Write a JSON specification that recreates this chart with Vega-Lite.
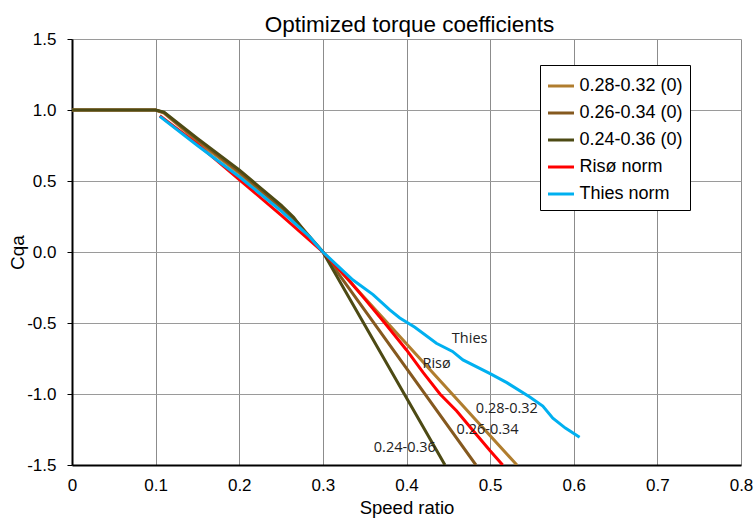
{
  "$schema": "https://vega.github.io/schema/vega-lite/v6.json",
  "width": 669,
  "height": 426,
  "autosize": "none",
  "padding": {"left": 72, "top": 39, "right": 14, "bottom": 53},
  "background": "white",
  "config": {
    "font": "Liberation Sans",
    "view": {"stroke": null}
  },
  "title": {
    "text": "Optimized torque coefficients",
    "fontSize": 22.5,
    "fontWeight": "normal",
    "color": "black",
    "anchor": "middle",
    "dx": 3,
    "offset": -6
  },
  "datasets": {
    "curves": [
      {"series": "0.28-0.32 (0)", "x": 0, "y": 1},
      {"series": "0.28-0.32 (0)", "x": 0.1, "y": 1},
      {"series": "0.28-0.32 (0)", "x": 0.11, "y": 0.978},
      {"series": "0.28-0.32 (0)", "x": 0.15, "y": 0.78},
      {"series": "0.28-0.32 (0)", "x": 0.2, "y": 0.555},
      {"series": "0.28-0.32 (0)", "x": 0.25, "y": 0.3},
      {"series": "0.28-0.32 (0)", "x": 0.27, "y": 0.19},
      {"series": "0.28-0.32 (0)", "x": 0.29, "y": 0.065},
      {"series": "0.28-0.32 (0)", "x": 0.3, "y": 0},
      {"series": "0.28-0.32 (0)", "x": 0.532, "y": -1.5},
      {"series": "0.26-0.34 (0)", "x": 0, "y": 1},
      {"series": "0.26-0.34 (0)", "x": 0.1, "y": 1},
      {"series": "0.26-0.34 (0)", "x": 0.11, "y": 0.982},
      {"series": "0.26-0.34 (0)", "x": 0.15, "y": 0.79},
      {"series": "0.26-0.34 (0)", "x": 0.2, "y": 0.565},
      {"series": "0.26-0.34 (0)", "x": 0.25, "y": 0.315},
      {"series": "0.26-0.34 (0)", "x": 0.27, "y": 0.205},
      {"series": "0.26-0.34 (0)", "x": 0.29, "y": 0.068},
      {"series": "0.26-0.34 (0)", "x": 0.3, "y": 0},
      {"series": "0.26-0.34 (0)", "x": 0.483, "y": -1.5},
      {"series": "0.24-0.36 (0)", "x": 0, "y": 1},
      {"series": "0.24-0.36 (0)", "x": 0.1, "y": 1},
      {"series": "0.24-0.36 (0)", "x": 0.11, "y": 0.985},
      {"series": "0.24-0.36 (0)", "x": 0.15, "y": 0.8},
      {"series": "0.24-0.36 (0)", "x": 0.2, "y": 0.578},
      {"series": "0.24-0.36 (0)", "x": 0.25, "y": 0.33},
      {"series": "0.24-0.36 (0)", "x": 0.265, "y": 0.245},
      {"series": "0.24-0.36 (0)", "x": 0.28, "y": 0.13},
      {"series": "0.24-0.36 (0)", "x": 0.29, "y": 0.065},
      {"series": "0.24-0.36 (0)", "x": 0.3, "y": 0},
      {"series": "0.24-0.36 (0)", "x": 0.446, "y": -1.5},
      {"series": "Risø norm", "x": 0.105, "y": 0.96},
      {"series": "Risø norm", "x": 0.15, "y": 0.76},
      {"series": "Risø norm", "x": 0.2, "y": 0.51},
      {"series": "Risø norm", "x": 0.25, "y": 0.26},
      {"series": "Risø norm", "x": 0.3, "y": 0},
      {"series": "Risø norm", "x": 0.33, "y": -0.19},
      {"series": "Risø norm", "x": 0.35, "y": -0.33},
      {"series": "Risø norm", "x": 0.374, "y": -0.5},
      {"series": "Risø norm", "x": 0.4, "y": -0.69},
      {"series": "Risø norm", "x": 0.42, "y": -0.85},
      {"series": "Risø norm", "x": 0.44, "y": -1.0},
      {"series": "Risø norm", "x": 0.46, "y": -1.12},
      {"series": "Risø norm", "x": 0.48, "y": -1.26},
      {"series": "Risø norm", "x": 0.5, "y": -1.4},
      {"series": "Risø norm", "x": 0.515, "y": -1.5},
      {"series": "Thies norm", "x": 0.105, "y": 0.955},
      {"series": "Thies norm", "x": 0.15, "y": 0.75},
      {"series": "Thies norm", "x": 0.2, "y": 0.53},
      {"series": "Thies norm", "x": 0.25, "y": 0.29},
      {"series": "Thies norm", "x": 0.284, "y": 0.108},
      {"series": "Thies norm", "x": 0.3, "y": 0},
      {"series": "Thies norm", "x": 0.336, "y": -0.197},
      {"series": "Thies norm", "x": 0.36, "y": -0.3},
      {"series": "Thies norm", "x": 0.38, "y": -0.408},
      {"series": "Thies norm", "x": 0.392, "y": -0.465},
      {"series": "Thies norm", "x": 0.41, "y": -0.53},
      {"series": "Thies norm", "x": 0.4357, "y": -0.643},
      {"series": "Thies norm", "x": 0.455, "y": -0.7},
      {"series": "Thies norm", "x": 0.4675, "y": -0.76},
      {"series": "Thies norm", "x": 0.4994, "y": -0.855},
      {"series": "Thies norm", "x": 0.52, "y": -0.92},
      {"series": "Thies norm", "x": 0.547, "y": -1.02},
      {"series": "Thies norm", "x": 0.563, "y": -1.085},
      {"series": "Thies norm", "x": 0.575, "y": -1.17},
      {"series": "Thies norm", "x": 0.59, "y": -1.24},
      {"series": "Thies norm", "x": 0.607, "y": -1.305}
    ],
    "labels": [
      {"label": "Thies", "x": 0.4755, "y": -0.613},
      {"label": "Risø", "x": 0.436, "y": -0.789},
      {"label": "0.28-0.32", "x": 0.52, "y": -1.106},
      {"label": "0.26-0.34", "x": 0.497, "y": -1.254},
      {"label": "0.24-0.36", "x": 0.398, "y": -1.38}
    ]
  },
  "layer": [
    {
      "data": {"name": "curves"},
      "mark": {"type": "line", "strokeWidth": 3, "clip": true},
      "encoding": {
        "x": {
          "field": "x", "type": "quantitative",
          "scale": {"domain": [0, 0.8], "nice": false, "zero": false},
          "axis": {
            "values": [0, 0.1, 0.2, 0.3, 0.4, 0.5, 0.6, 0.7, 0.8],
            "format": "~g",
            "title": "Speed ratio",
            "titleFontSize": 18.5, "titleFontWeight": "normal", "titleColor": "black",
            "titleBaseline": "middle", "titleY": 42,
            "labelFontSize": 17, "labelColor": "black", "labelPadding": 12,
            "labelFlush": false,
            "ticks": false,
            "domainColor": "black", "domainWidth": 2,
            "grid": true, "gridColor": "#8c8c8c", "gridWidth": 1
          }
        },
        "y": {
          "field": "y", "type": "quantitative",
          "scale": {"domain": [-1.5, 1.5], "nice": false, "zero": false},
          "axis": {
            "values": [-1.5, -1, -0.5, 0, 0.5, 1, 1.5],
            "labelExpr": "replace(format(datum.value, '.1f'), '\u2212', '-')",
            "title": "Cqa",
            "titleFontSize": 19, "titleFontWeight": "normal", "titleColor": "black",
            "titleX": -55, "titleY": 213, "titleBaseline": "middle", "titleAngle": -90,
            "labelFontSize": 17, "labelColor": "black", "labelPadding": 11,
            "labelFlush": false,
            "ticks": true, "tickSize": 5, "tickColor": "black", "tickWidth": 1,
            "domainColor": "black", "domainWidth": 2,
            "grid": true, "gridColor": "#9a9a9a", "gridWidth": 1
          }
        },
        "color": {
          "field": "series", "type": "nominal",
          "scale": {
            "domain": ["0.28-0.32 (0)", "0.26-0.34 (0)", "0.24-0.36 (0)", "Risø norm", "Thies norm"],
            "range": ["#B07D2E", "#85591F", "#4D4A14", "#FF0000", "#00B0F0"]
          },
          "legend": {
            "title": null,
            "orient": "none",
            "legendX": 468,
            "legendY": 26,
            "symbolType": "stroke",
            "symbolStrokeWidth": 3,
            "symbolSize": 676,
            "labelFontSize": 18,
            "labelColor": "black",
            "labelOffset": 4,
            "rowPadding": 3,
            "padding": 6.5,
            "strokeColor": "black",
            "fillColor": "white",
            "cornerRadius": 0
          }
        }
      }
    },
    {
      "mark": {"type": "rule", "color": "black", "strokeWidth": 2},
      "encoding": {"y": {"datum": 0}}
    },
    {
      "data": {"name": "labels"},
      "mark": {"type": "text", "font": "Open Sans", "fontSize": 14.5, "color": "#222222", "align": "center", "baseline": "middle"},
      "encoding": {
        "x": {"field": "x", "type": "quantitative"},
        "y": {"field": "y", "type": "quantitative"},
        "text": {"field": "label"}
      }
    }
  ]
}
